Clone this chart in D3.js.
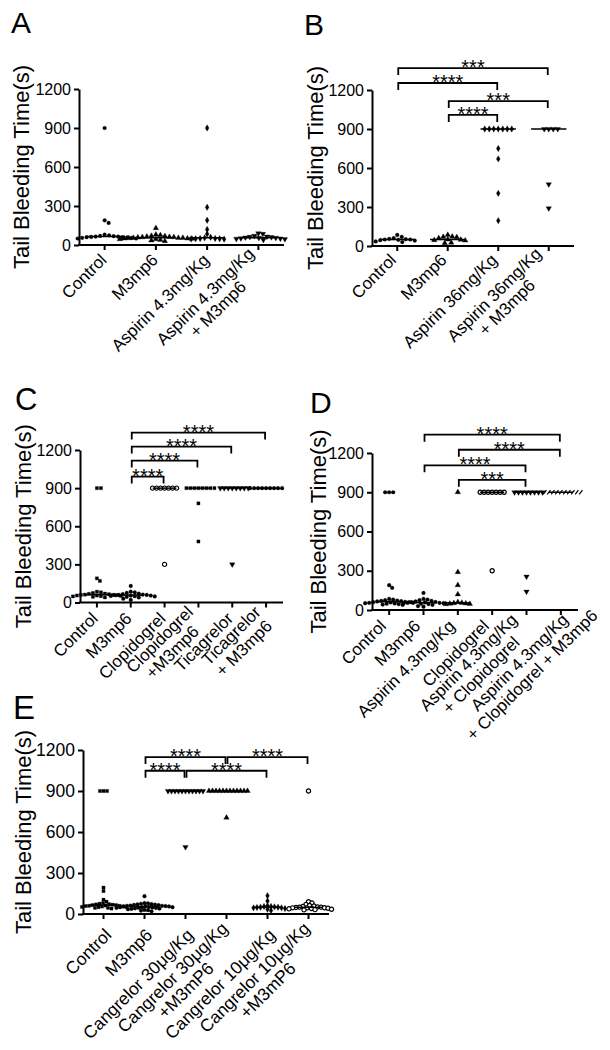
<!DOCTYPE html>
<html><head><meta charset="utf-8">
<script src="https://cdn.jsdelivr.net/npm/d3@7"></script>
<style>
body{margin:0;background:#fff}
svg{display:block}
text{font-family:"Liberation Sans",Arial,Helvetica,sans-serif;fill:#000}
</style>
</head><body>
<svg id="chart" width="610" height="1050"></svg>
<script>
// ---------------- DATA ----------------
const yTicks = [0, 300, 600, 900, 1200];
const yTitle = "Tail Bleeding Time(s)";

const catsA = ["Control", "M3mp6", "Aspirin 4.3mg/Kg", "Aspirin 4.3mg/Kg\n+ M3mp6"];
const valsA = [
  [900, 190, 170, 80, 75, 70, 68, 65, 65, 62, 60, 60, 58, 55, 55, 50, 50],
  [130, 80, 75, 70, 68, 65, 62, 60, 60, 58, 55, 55, 55, 52, 50, 50, 48, 45, 45, 40, 35, 30],
  [900, 290, 190, 120, 85, 60, 55, 50, 50, 48, 48, 46, 45],
  [90, 85, 70, 65, 62, 60, 58, 55, 55, 52, 50, 48, 45, 40]
];
const markersA = ["circle", "triangle", "diamond", "triangleDown"];
const bracketsA = [];

const catsB = ["Control", "M3mp6", "Aspirin 36mg/Kg", "Aspirin 36mg/Kg\n+ M3mp6"];
const valsB = [
  [85, 70, 60, 55, 52, 50, 50, 48, 45, 42, 35, 30],
  [85, 72, 70, 68, 60, 50, 48, 45, 42, 25, 22],
  [900, 900, 900, 900, 900, 900, 900, 750, 670, 405, 195],
  [900, 900, 900, 900, 475, 290]
];
const markersB = ["circle", "triangle", "diamond", "triangleDown"];
// [from, to, label, level (s)]
const bracketsB = [[0, 3, "***", 1369], [0, 2, "****", 1254], [1, 3, "***", 1115], [1, 2, "****", 1008]];

const catsC = ["Control", "M3mp6", "Clopidogrel", "Clopidogrel\n+M3mp6", "Ticagrelor", "Ticagrelor\n+ M3mp6"];
const valsC = [
  [900, 900, 190, 170, 85, 80, 75, 70, 68, 65, 62, 60, 60, 58, 55, 55, 52, 50, 48, 45, 40],
  [130, 85, 80, 75, 70, 65, 62, 60, 60, 58, 55, 55, 52, 50, 48, 45, 40, 30, 20],
  [900, 900, 900, 900, 900, 900, 900, 300],
  [900, 900, 900, 900, 900, 900, 900, 900, 780, 480],
  [900, 900, 900, 900, 900, 900, 900, 900, 300],
  [900, 900, 900, 900, 900, 900, 900, 900, 900]
];
const markersC = ["square", "circle", "openCircle", "square", "triangleDown", "circle"];
const bracketsC = [[1, 5, "****", 1337], [1, 4, "****", 1227], [1, 3, "****", 1117], [1, 2, "****", 991]];

const catsD = ["Control", "M3mp6", "Aspirin 4.3mg/Kg", "Clopidogrel", "Aspirin 4.3mg/Kg\n+ Clopidogrel", "Aspirin 4.3mg/Kg\n+ Clopidogrel + M3mp6"];
const valsD = [
  [900, 900, 900, 190, 170, 85, 80, 75, 72, 70, 68, 65, 62, 60, 60, 58, 55, 55, 52, 50, 48, 45, 42, 40],
  [130, 85, 80, 75, 70, 65, 62, 60, 58, 55, 55, 52, 50, 48, 45, 40, 30, 25],
  [900, 290, 190, 120, 60, 55, 52, 50, 48, 46, 45],
  [900, 900, 900, 900, 900, 900, 900, 300],
  [900, 900, 900, 900, 900, 900, 900, 900, 255, 140],
  [900, 900, 900, 900, 900, 900, 900, 900, 900, 900]
];
const markersD = ["circle", "circle", "triangle", "openCircle", "triangleDown", "slash"];
const bracketsD = [[1, 5, "****", 1340], [2, 5, "****", 1225], [1, 4, "****", 1106], [2, 4, "***", 995]];

const catsE = ["Control", "M3mp6", "Cangrelor 30μg/Kg", "Cangrelor 30μg/Kg\n+M3mP6", "Cangrelor 10μg/Kg", "Cangrelor 10μg/Kg\n+M3mP6"];
const valsE = [
  [900, 900, 900, 193, 168, 105, 90, 80, 75, 72, 70, 68, 65, 65, 62, 60, 60, 58, 55, 55, 52, 50, 50, 45, 45, 40],
  [130, 80, 78, 75, 72, 70, 68, 66, 65, 62, 60, 60, 58, 56, 55, 55, 52, 50, 50, 50, 48, 46, 45, 44, 42, 40, 38, 35, 30, 28, 25, 20],
  [900, 900, 900, 900, 900, 900, 900, 900, 900, 900, 900, 490],
  [900, 900, 900, 900, 900, 900, 900, 900, 900, 900, 900, 900, 705],
  [134, 95, 60, 55, 55, 52, 50, 50, 48, 45, 45, 40, 35, 25],
  [900, 90, 80, 70, 62, 58, 55, 52, 50, 50, 48, 46, 45, 45, 42, 40, 38, 35, 32, 30]
];
const markersE = ["square", "circle", "triangleDown", "triangle", "diamond", "openCircle"];
const bracketsE = [[1, 3, "****", 1148], [3, 5, "****", 1148], [1, 2, "****", 1048], [2, 4, "****", 1048]];

// ---------------- LAYOUT ----------------
const panels = [
  {letter: "A", cats: catsA, vals: valsA, markers: markersA, brackets: bracketsA,
   x0: 79, x1: 284, yTop: 89, yBot: 245, titleX: 29, lx: 11, ly: 33, lsize: 30,
   tickFont: 16, lblFont: 17, lblDx: 3, lblDy: 16, d: 4.5},
  {letter: "B", cats: catsB, vals: valsB, markers: markersB, brackets: bracketsB,
   x0: 372, x1: 574, yTop: 90, yBot: 246, titleX: 323, lx: 304, ly: 35, lsize: 30,
   tickFont: 16, lblFont: 17, lblDx: 0, lblDy: 15, d: 4.5},
  {letter: "C", cats: catsC, vals: valsC, markers: markersC, brackets: bracketsC,
   x0: 80, x1: 283, yTop: 450, yBot: 602.5, titleX: 31, lx: 15, ly: 410, lsize: 31,
   tickFont: 16, lblFont: 17, lblDx: 2, lblDy: 17, d: 3.8},
  {letter: "D", cats: catsD, vals: valsD, markers: markersD, brackets: bracketsD,
   x0: 372, x1: 578, yTop: 453, yBot: 610, titleX: 326, lx: 310, ly: 413, lsize: 30,
   tickFont: 16, lblFont: 17, lblDx: -2, lblDy: 17, d: 3.8},
  {letter: "E", cats: catsE, vals: valsE, markers: markersE, brackets: bracketsE,
   x0: 83, x1: 329, yTop: 750, yBot: 914, titleX: 31, lx: 13, ly: 719, lsize: 33,
   tickFont: 17.5, lblFont: 17.5, lblDx: 9, lblDy: 22, d: 3.4}
];

const svg = d3.select("#chart");

function markerPath(type) {
  const s = 13;
  switch (type) {
    case "triangle": return d3.symbol(d3.symbolTriangle, s)();
    case "triangleDown": return d3.symbol(d3.symbolTriangle, s)();
    case "diamond": return d3.symbol(d3.symbolDiamond, 12)();
    case "square": return d3.symbol(d3.symbolSquare, 10)();
    case "slash": return "M-1.6,2.2L1.6,-2.2";
    case "openCircle": return d3.symbol(d3.symbolCircle, 14)();
    default: return d3.symbol(d3.symbolCircle, 11)();
  }
}

function swarm(values, y, d) {
  const pts = values.map(v => ({v, py: y(v)})).sort((a, b) => b.v - a.v);
  const placed = [];
  pts.forEach(p => {
    for (let k = 0; k < 200; k++) {
      const off = (k % 2 === 1 ? 1 : -1) * Math.ceil(k / 2) * 0.5;
      const ok = placed.every(q => (q.dx - off) ** 2 + (q.py - p.py) ** 2 >= d * d);
      if (ok) { p.dx = off; break; }
    }
    placed.push(p);
  });
  return placed;
}

panels.forEach(P => {
  const g = svg.append("g");
  const x = d3.scaleBand().domain(d3.range(P.cats.length)).range([P.x0, P.x1]);
  const bw = x.bandwidth();
  const cx = i => x(i) + bw / 2;
  const y = d3.scaleLinear().domain([0, 1200]).range([P.yBot, P.yTop]);

  // panel letter
  g.append("text").attr("x", P.lx).attr("y", P.ly).attr("font-size", P.lsize).text(P.letter);

  // y axis
  const ya = g.append("g").attr("transform", `translate(${P.x0},0)`)
    .call(d3.axisLeft(y).tickValues(yTicks).tickFormat(d3.format("d"))
      .tickSize(5).tickSizeOuter(0).tickPadding(3));
  ya.select(".domain").attr("stroke", "#000").attr("stroke-width", 2);
  ya.selectAll(".tick line").attr("stroke", "#000").attr("stroke-width", 2);
  ya.selectAll(".tick text").attr("font-size", P.tickFont).attr("font-family", null).attr("fill", "#000");

  // x axis
  const xa = g.append("g").attr("transform", `translate(0,${P.yBot})`)
    .call(d3.axisBottom(x).tickSize(5).tickSizeOuter(0).tickFormat(""));
  xa.select(".domain").attr("stroke", "#000").attr("stroke-width", 2)
    .attr("d", `M${P.x0 - 1},0H${P.x1}`);
  xa.selectAll(".tick line").attr("stroke", "#000").attr("stroke-width", 2);

  // y title
  g.append("text")
    .attr("transform", `translate(${P.titleX},${(P.yTop + P.yBot) / 2}) rotate(-90)`)
    .attr("text-anchor", "middle").attr("font-size", 22).text(yTitle);

  // x labels (rotated; lines centred together; block centred vertically)
  const lh = P.lblFont * 1.05;
  const k45 = Math.SQRT1_2;
  P.cats.forEach((c, i) => {
    const lines = c.split("\n");
    const shift = (lines.length - 1) * lh / 2;
    const lg = g.append("g");
    const inner = lg.append("g").attr("transform", "rotate(-45)");
    const ts = lines.map((ln, j) => inner.append("text").attr("text-anchor", "middle")
      .attr("font-size", P.lblFont).attr("y", j * lh - shift).text(ln));
    const ws = ts.map(t => t.node().getComputedTextLength());
    const W = d3.max(ws);
    ts.forEach(t => t.attr("x", -ws[0] / 2));
    // a later line longer than the first pushes the block to the right
    const extra = (W - ws[0]) / 2 * k45;
    lg.attr("transform", `translate(${cx(i) + P.lblDx + extra},${P.yBot + P.lblDy})`);
  });

  // points + median lines
  P.vals.forEach((vals, i) => {
    const m = P.markers[i];
    const pts = swarm(vals, y, P.d);
    const path = markerPath(m);
    g.append("g").selectAll("path").data(pts).join("path")
      .attr("d", path)
      .attr("transform", p => `translate(${cx(i) + p.dx},${p.py})` + (m === "triangleDown" ? " rotate(180)" : ""))
      .attr("fill", m === "openCircle" ? "#fff" : (m === "slash" ? "none" : "#000"))
      .attr("stroke", "#000")
      .attr("stroke-width", m === "openCircle" ? 1.2 : (m === "slash" ? 1.2 : 0.3));
    const med = d3.median(vals);
    g.append("line")
      .attr("x1", cx(i) - bw * 0.35).attr("x2", cx(i) + bw * 0.35)
      .attr("y1", y(med)).attr("y2", y(med))
      .attr("stroke", "#000").attr("stroke-width", 1.5);
  });

  // significance brackets
  P.brackets.forEach(([a, b, lab, lvl]) => {
    const yy = y(lvl);
    const xa1 = cx(a) + 1, xb1 = cx(b) - 1;
    g.append("path")
      .attr("d", `M${xa1},${yy + 7}V${yy}H${xb1}V${yy + 7}`)
      .attr("fill", "none").attr("stroke", "#000").attr("stroke-width", 1.8);
    g.append("text").attr("x", (xa1 + xb1) / 2).attr("y", yy + 6)
      .attr("text-anchor", "middle").attr("font-size", 20).text(lab);
  });
});
</script>
</body></html>
